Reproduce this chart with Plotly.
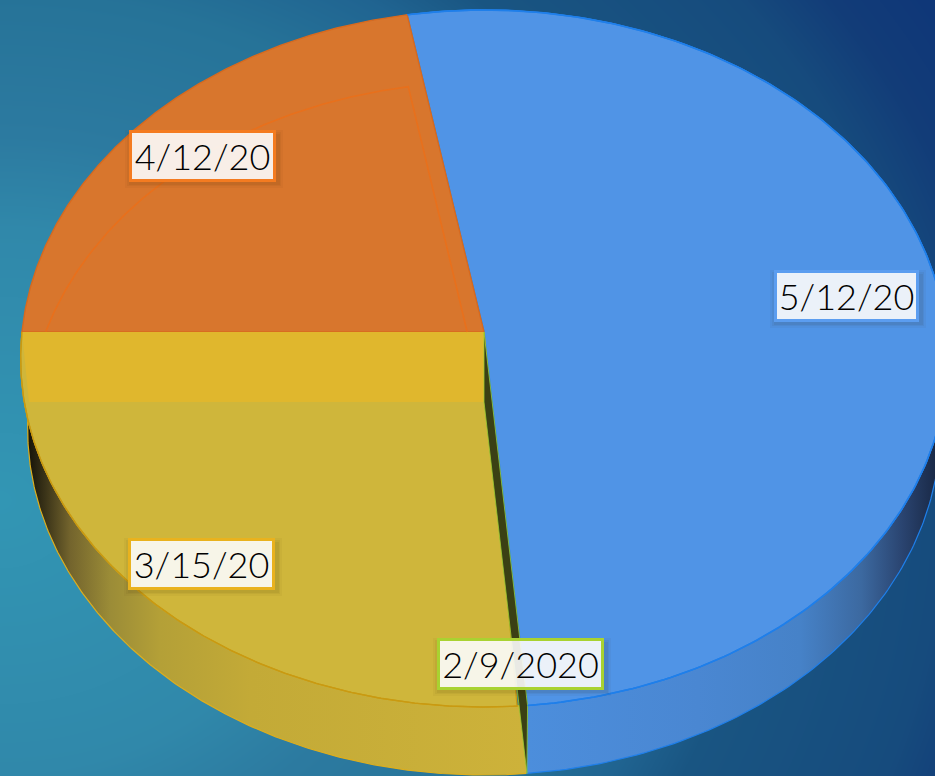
import numpy as np
import plotly.graph_objects as go

# --- data (share of the pie, in degrees) ---
categories = ["2/9/2020", "3/15/20", "4/12/20", "5/12/20"]
values = [1.2, 93.8, 79.7, 185.3]

top_colors = ["#3a4014", "#CFB63B", "#D8762D", "#5094E6"]
edge_colors = ["#9ACD32", "#C99A12", "#D86A1E", "#1F7FEA"]
border_colors = ["#A9D231", "#E9B21E", "#F47B20", "#5B9DF0"]
label_xy = [(520, 664), (201, 564), (202, 156), (846, 296)]
label_w = [166, 146, 146, 144]

W, H = 935, 776
CX, CY, KX, KY, PERSP = 484, 332, 462, 346.5, 0.076
START = 175.0


def proj(deg, r=1.0, lower=False):
    a = np.radians(np.asarray(deg, dtype=float))
    x, y = r * np.sin(a), r * np.cos(a)
    d = 1 + PERSP * y
    sx = KX * x / d
    sy = CY - KY * y / d
    if lower:
        sy = sy + 70 + 2 * y
        sx = sx * 0.985
    return CX + sx, sy


edges = START + np.concatenate([[0], np.cumsum(values)])

fig = go.Figure()

# background gradient
gx = np.arange(0, W + 1, 5)
gy = np.arange(0, H + 1, 5)
XX, YY = np.meshgrid(gx, gy)
dist = np.hypot(XX / 935, (YY - 500) / 800) / 1.17
fig.add_trace(go.Heatmap(
    x=gx, y=gy, z=dist, showscale=False, hoverinfo="skip", zmin=0, zmax=1, zsmooth="best",
    colorscale=[[0, "#3296B4"], [0.29, "#3088AA"], [0.39, "#2C7AA0"], [0.54, "#267398"],
                [0.63, "#206491"], [0.69, "#195582"], [0.86, "#164B7D"], [0.93, "#123C78"], [1, "#0F3778"]],
))


def poly(xs, ys, fill=None, line=None, lw=1.2, grad=None):
    kw = dict(x=xs, y=ys, mode="lines", hoverinfo="skip", showlegend=False)
    if fill or grad:
        kw["fill"] = "toself"
    if fill:
        kw["fillcolor"] = fill
    if grad:
        kw["fillgradient"] = grad
    kw["line"] = dict(color=line or "rgba(0,0,0,0)", width=lw if line else 0)
    fig.add_trace(go.Scatter(**kw))


def arc(a0, a1, n=240, lower=False):
    return proj(np.linspace(a0, a1, n), lower=lower)


# outer side walls: 3/15/20 (yellow) and 5/12/20 (blue)
yx0, yy0 = arc(edges[0], edges[2])
yx1, yy1 = arc(edges[0], edges[2], lower=True)
poly(np.r_[yx0, yx1[::-1]], np.r_[yy0, yy1[::-1]], line="#DDAE1E", lw=1.2, grad=dict(
    type="horizontal", start=25, stop=526,
    colorscale=[[0, "#0F0D06"], [0.04, "#3a3318"], [0.09, "#73642D"], [0.17, "#9B8C37"],
                [0.27, "#B4A037"], [0.45, "#C3AA37"], [1, "#CDB23A"]]))
bx0, by0 = arc(edges[3], edges[4])
bx1, by1 = arc(edges[3], edges[4], lower=True)
poly(np.r_[bx0, bx1[::-1]], np.r_[by0, by1[::-1]], line=edge_colors[3], lw=1.2, grad=dict(
    type="horizontal", start=526, stop=935,
    colorscale=[[0, "#4C8EDC"], [0.42, "#4A87D2"], [0.67, "#4682C8"], [0.82, "#3C69A0"],
                [0.92, "#2A4470"], [1, "#1A2A48"]]))

# top faces
for i in [3, 1, 2]:
    ax, ay = arc(edges[i], edges[i + 1])
    poly(np.r_[CX, ax, CX], np.r_[CY, ay, CY], fill=top_colors[i], line=edge_colors[i], lw=1.4)

# inner wall between 3/15/20 and 4/12/20 seen through the yellow face
wx0, wy0 = proj(edges[2])
wx1, wy1 = proj(edges[2], lower=True)
cx1, cy1 = proj(0, r=0, lower=True)
poly([CX, wx0, wx1, cx1, CX], [CY, wy0, wy1, cy1, CY], fill="#E0B72D")

# lower face of 4/12/20 seen through the orange face
ox, oy = arc(edges[2], edges[3], lower=True)
keep = oy < CY
ex, ey = proj(edges[3], lower=True)
s = (CY - ey) / (cy1 - ey)
poly(np.r_[ox[keep], ex + s * (cx1 - ex)], np.r_[oy[keep], CY], line="#E8701C", lw=1.6)

# inner wall of 5/12/20 closing the thin 2/9/2020 slice
dx0, dy0 = proj(edges[0])
dx1, dy1 = proj(edges[0], lower=True)
poly([CX, cx1, dx1, dx0, CX], [CY, cy1, dy1, dy0, CY], fill=top_colors[0], line=edge_colors[0], lw=0.8)

# rims over the side walls
poly(*arc(edges[3], edges[4]), line=edge_colors[3], lw=1.6)
poly(*arc(edges[1], edges[2]), line=edge_colors[1], lw=1.2)

annotations = []
for (lx, ly), w, name, bc in zip(label_xy, label_w, categories, border_colors):
    for grow, alpha in [(10, 0.035), (6, 0.05), (3, 0.06)]:
        annotations.append(dict(
            x=lx + 2, y=ly + 3, xref="x", yref="y", text=" ", showarrow=False,
            width=w + grow, height=46 + grow,
            bgcolor=f"rgba(50,30,0,{alpha})", borderwidth=0))
    annotations.append(dict(
        x=lx, y=ly, xref="x", yref="y", text=name, showarrow=False,
        width=w - 5, height=46, borderpad=0, borderwidth=3, bordercolor=bc,
        bgcolor="rgba(255,255,255,0.89)", align="center", valign="middle",
        font=dict(family="Lato, sans-serif", size=36, weight=300, color="#000000")))

fig.update_layout(
    width=W, height=H, margin=dict(l=0, r=0, t=0, b=0), showlegend=False,
    paper_bgcolor="#206491", plot_bgcolor="#206491",
    xaxis=dict(range=[0, W], visible=False, fixedrange=True),
    yaxis=dict(range=[H, 0], visible=False, fixedrange=True),
    annotations=annotations,
)
fig.write_html("out.html", config={"displayModeBar": False},
               post_script="document.body.style.margin='0';document.body.style.overflow='hidden';")
